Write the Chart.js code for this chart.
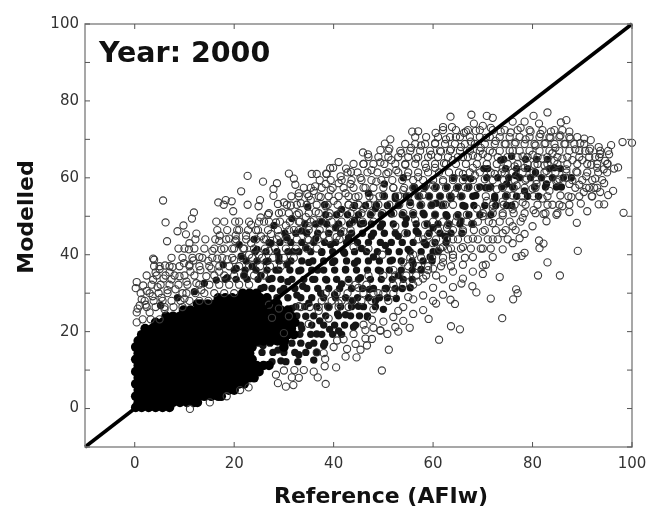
<!DOCTYPE html>
<html>
<head>
<meta charset="utf-8">
<style>
html, body { margin: 0; padding: 0; background: #fff; }
canvas { display: block; }
</style>
<script src="https://cdn.jsdelivr.net/npm/chart.js@4/dist/chart.umd.min.js"></script>
</head>
<body>
<canvas id="chart" width="646" height="509"></canvas>
<script>
const xTickValues = [0, 20, 40, 60, 80, 100];
const yTickValues = [-10, 0, 10, 20, 30, 40, 50, 60, 70, 80, 90, 100];
const lineX = [-10, 100];
const lineY = [-10, 100];

// solid black part of the cloud, one row per y level: [y, x, x, x ...]
const coreRows = [
  [.3, .2,1.4,2.8,4.2,5.6,7],
  [1.6, .7,2.1,3.5,4.9,6.3,7.7,9.1,10.5,11.9,12.6],
  [3.2, .2,1.4,2.8,4.2,5.6,7,8.4,9.8,11.2,12.6,14,15.4,16.8,17.4],
  [4.8, .7,2.1,3.5,4.9,6.3,7.7,9.1,10.5,11.9,13.3,14.7,16.1,17.5,18.9,20],
  [6.4, .2,1.4,2.8,4.2,5.6,7,8.4,9.8,11.2,12.6,14,15.4,16.8,18.2,19.6,21,22],
  [8, .7,2.1,3.5,4.9,6.3,7.7,9.1,10.5,11.9,13.3,14.7,16.1,17.5,18.9,20.3,21.7,23.1,24],
  [9.6, .2,1.4,2.8,4.2,5.6,7,8.4,9.8,11.2,12.6,14,15.4,16.8,18.2,19.6,21,22.4,23.8,25],
  [11.2, .7,2.1,3.5,4.9,6.3,7.7,9.1,10.5,11.9,13.3,14.7,16.1,17.5,18.9,20.3,21.7,23.1,24.5,25.9,27],
  [12.8, .2,1.4,2.8,4.2,5.6,7,8.4,9.8,11.2,12.6,14,15.4,16.8,18.2,19.6,21,22.4,23.6],
  [14.4, .7,2.1,3.5,4.9,6.3,7.7,9.1,10.5,11.9,13.3,14.7,16.1,17.5,18.9,20.3,21.7,23.1],
  [16, .2,1.4,2.8,4.2,5.6,7,8.4,9.8,11.2,12.6,14,15.4,16.8,18.2,19.6,21,22.4,23.6,30],
  [17.6, .7,2.1,3.5,4.9,6.3,7.7,9.1,10.5,11.9,13.3,14.7,16.1,17.5,18.9,20.3,21.7,23.1,24.5,25.9,27.3,28.7,30.1],
  [19.2, 1.4,2.8,4.2,5.6,7,8.4,9.8,11.2,12.6,14,15.4,16.8,18.2,19.6,21,22.4,23.8,25.2,26.6,28,29.4,30.8,32],
  [20.8, 2.1,3.5,4.9,6.3,7.7,9.1,10.5,11.9,13.3,14.7,16.1,17.5,18.9,20.3,21.7,23.1,24.5,25.9,27.3,28.7,30.1,31.5],
  [22.4, 4.2,5.6,7,8.4,9.8,11.2,12.6,14,15.4,16.8,18.2,19.6,21,22.4,23.8,25.2,26.6,28,29.4,30.8,32.2],
  [24, 6.3,7.7,9.1,10.5,11.9,13.3,14.7,16.1,17.5,18.9,20.3,21.7,23.1,24.5,25.9,27.3,28.7,30.1,31.5],
  [25.6, 9.8,11.2,12.6,14,15.4,16.8,18.2,19.6,21,22.4,23.8,25.2,26.6,28,29.4,30.8],
  [27.2, 12.6,13.3,14.7,16.1,17.5,18.9,20.3,21.7,23.1,24.5,25.9,27.3,28.7],
  [28.8, 16.8,18.2,19.6,21,22.4,23.8,25.2,26.6],
  [30, 21.7,23.1,24.5]
];

// dark speckled part, flat x,y pairs
const speckle = [
  26,31.5, 27.6,33.8, 29.3,30.6, 30.8,33, 32.6,29.5, 33.8,31.8, 35,27.4, 35.8,33.6, 37.4,30, 38.8,26.6,
  25.4,34.6, 28.4,36, 30.6,37.4, 33,35.8, 35,38, 36.8,36, 38.6,33.4, 40.2,29.6, 41.6,32.4, 42.4,36.2,
  39.8,38, 37.6,40.6, 34.4,41.8, 31.8,40.8, 29,39.4, 26.4,38.2, 23.6,37, 22,34.6, 20.4,36.4, 18.6,34,
  16.4,33.4, 14,32.6, 17.8,37.4, 21.4,39.6, 24.6,41.4, 27.4,43, 30.6,44.4, 33.6,46.2, 36.4,44.2, 39.4,42.6,
  42.2,40.4, 44.2,37.8, 45.6,41.6, 43,44.4, 40.4,47, 37.6,48.6, 47.6,44.8, 46,48.2, 49.4,47.2, 50.4,42.4,
  48,39.4, 45.4,34, 47.2,31, 49.4,35.8, 51.8,38.6, 53,44.8, 51.6,50.6, 54.6,49.4, 56.6,46.2, 55,41.4,
  53,34.6, 50.6,31.2, 43.8,28, 40.8,24.6, 37.2,22.8, 34.4,24, 31.6,26, 36.6,19.4, 39.2,20.6, 42.4,24.4,
  45,26.6, 48.4,28, 30.4,22.6, 33.6,20.8, 35,16.4, 33,14, 36,12.6, 29.4,12.4, 28.8,15.2, 25.8,16.4,
  38,16.4, 41,20.2, 44,21.2, 46.8,23.8, 50,25.8, 52.6,28.6, 55.4,31.4, 57.6,36.2, 58.6,42.6, 60,47,
  58,50.8, 55.4,53.6, 60.6,53.4, 62.8,50, 63.6,54.6, 65.6,48.8, 66.4,52.6, 68.6,55.4, 70.6,57.4, 72.4,54.6,
  74.8,58.4, 76.6,60.6, 78.4,56.6, 80.6,61.4, 82.8,58.4, 84.4,62.6, 71,62.4, 73.6,64.6, 75.8,65.6, 67.6,59.8,
  62.4,44.8, 59.4,39.4, 56,37.6, 52.4,54.6, 48.4,52, 44.2,49, 41.6,51.8, 47,56, 50.2,58.4, 54,60,
  12,30.4, 8.6,28.8, 5.2,26.8, 24,44, 21,42.6, 28,47.6, 31.6,49.4, 34.8,52.4, 38.2,53
];

// more of the dark part, one row per y level: [y, x, x, x ...]
const speckleRows = [
  [12.2, 27.6,30.4,32.8],
  [14.6, 25.6,27.8,30,32.2,34.4,36.6],
  [17, 25,27.2,31.6,33.4,36,38.2],
  [19.3, 33.2,35.4,37.6,39.8,41.6],
  [21.7, 33.4,35.6,38,40.2,42.2,44.4],
  [24.1, 32.6,36,38.4,41,43.4,45.2,46.8],
  [26.5, 32.4,34.2,36.6,39,41.4,43.6,46,48.4],
  [28.8, 28.6,30.8,33.4,35.6,38,40.4,42.4,44.8,47,49.2,50.8],
  [31.2, 25.4,27.6,30,32.2,34.6,36.8,39,41.2,43.6,45.8,48,50.4,52.4,53.8],
  [33.6, 18.2,20.4,22.6,24.8,27,29.4,31.6,34,36.2,38.4,40.6,43,45,47.4,49.6,51.8,54,55.8],
  [36, 20,22.2,24.4,26.6,29,31.2,33.4,35.6,38,40.2,42.4,44.6,46.8,49,51.2,53.6,55.8,57.6],
  [38.4, 22.4,24.6,26.8,29,31.4,33.6,35.8,38,40.2,42.6,44.8,47,49.2,51.4,53.6,55.8,58,59.8],
  [40.8, 24.2,26.4,28.6,30.8,33,35.4,37.6,39.8,42,44.2,46.6,48.8,51,53.2,55.4,57.6,60,61],
  [43.2, 27,29.2,31.4,33.6,36,38.2,40.4,42.6,44.8,47,49.4,51.6,53.8,56,58.2,60.4,62.6],
  [45.6, 30.2,32.4,34.6,36.8,39,41.4,43.6,45.8,48,50.2,52.4,54.8,57,59.2,61.4,63.6,65.8],
  [48, 34.2,36.4,38.6,41,43.2,45.4,47.6,49.8,52,54.4,56.6,58.8,61,63.2,65.4,67.8],
  [50.4, 38.4,40.6,42.8,45,47.4,49.6,53.8,56,58.2,60.4,62.6,65,67.2,69.4,71.6],
  [52.8, 44.2,46.4,48.6,50.8,53,57.4,59.6,61.8,66,68.2,70.4,72.6,74.8,75.8],
  [55.2, 50.2,52.4,54.6,57,59.2,61.4,63.6,65.8,68,72.4,74.6,76.8,79,81.2],
  [57.6, 56.2,58.4,60.6,62.8,65,67.2,69.4,71.6,73.8,76,80.4,82.6,84.8,85.8],
  [60, 64.2,66.4,70.8,73,75.2,77.4,79.6,81.8,84,86.2,87.8],
  [62.4, 70.2,74.6,76.8,79,83.4,85.6],
  [64.8, 74.2,78.6,80.8,83]
];

// open circles through the band, flat x,y pairs
const band = [
  .6,26, 1.4,28.4, 2.4,30.6, 3.6,29.2, 4.6,31.6, 5.4,28.8, 2.2,27, 4.2,35.4, 5.8,33.8, 6.6,30.8, 7.4,33.6, 8.2,31, 9,34.4, 9.6,30, 7,35.4,
  10.4,33, 11.2,35.6, 12.4,32.6, 13.2,36, 14.4,34.4, 13,39.4, 14.8,38.4, 11,37.4, 15.4,36.4, 16.6,39, 17.4,41.4, 18.6,38.8, 15.6,41, 19.6,41.6, 17,43.6,
  20.2,43.6, 21.8,41.6, 22.4,45, 23.4,43, 24.4,46.4, 21,46.4, 19,44.2, 25.4,44.8, 23.4,47.8, 26,48.6, 27.4,45.4, 26.8,50.4, 28.4,48.4, 29.6,51, 30.4,47.6,
  31.4,52.8, 32.6,50.4, 33.4,53.4, 34.4,49.8, 30,53.6, 28.8,53.2, 35.4,54.2, 36.4,51.2, 37.4,55, 33,56, 38.4,52.6, 39.4,56.8, 40,54, 41,58.6, 38.4,58.4,
  36,56.6, 34,57.4, 42.4,56, 43.4,58.4, 44.4,55, 45.4,60, 41.4,60.4, 46.4,57.4, 47.6,62, 48.6,59, 49.4,64, 46,63.6, 50.6,61, 51.6,64.6, 52.6,62,
  53.6,66.4, 54.4,63.4, 55.6,67.8, 56.6,65, 57.6,68.4, 58.6,62.6, 59.6,66, 60.4,69, 54.8,60.4, 57,60.2, 61.6,66.8, 62.6,70, 63.6,67.4, 64.6,70.6, 65.6,68,
  66.6,72, 67.6,69.4, 68.6,72.2, 69.6,67.8, 70.6,70.4, 71.6,73, 72.6,69.6, 73.6,72, 74.6,68.8, 75.6,71.8, 76.6,69.2, 77.6,73, 78.6,70, 79.6,72, 80.6,68.4,
  81.6,71.4, 82.6,69, 83.6,70.4, 84.6,67.8, 85.6,71, 86.6,68.8, 87.6,70.2, 88.6,67.4, 89.6,69, 90.6,67, 91.6,67.6, 92.6,65.4, 93.6,66.2, 94.6,64.4, 95.2,67,
  60.4,62.6, 62.2,63.8, 64,64.6, 66,65.4, 68,65.8, 70,66.2, 72,66.6, 74,62.4, 76,67, 78,65.6, 80,66, 82,65, 84,66.4, 86,65, 88,64.6,
  90,64.6, 91.8,63.4, 93,62.6, 86.8,62.2, 88.8,61.6, 90.8,60.4, 92.6,59.8, 94.4,58.6, 85.4,59.6, 87.4,58.4, 89.4,58.2, 91.4,57.4, 83.4,56.6, 85.6,55.4, 87.8,55,
  80,57.2, 82,54.6, 84,53, 86,52.6, 78,53.6, 80.2,51.6, 82.2,50.6, 76,51.8, 78,49.6, 80,47.4, 74,50.2, 76,47.4, 78.4,45.4, 72,48.2, 74,45.6,
  76,43, 70,46, 72,44, 74,41.4, 68,44.2, 70,41.6, 72,39.4, 66,42, 68,39.4, 70,37.2, 64,40, 66,37.4, 68,35.6, 62,38, 64,35.6,
  66,33.8, 60,36.4, 62,33.6, 64,31.6, 58,33.8, 60,31.4, 62,29.6, 56,28.4, 58,29.4, 60,28, 54,26.4, 56,24.6, 58,25.6, 52,23.8, 54,22.8,
  50,22.6, 48,25.8, 46,21.8, 44,19.4, 42,18, 40,16, 38,14.4, 48,21, 50.8,19.4, 53,20, 44.4,16.8, 46.4,18.2, 34,10, 36,9.6, 33,8,
  62,42, 64,44, 66,46, 68,48, 70,50, 72,52, 74,53.8, 76,55.4, 62.8,47, 64.8,50, 66.8,50.4, 68.8,52, 70.8,54, 72.8,57, 74.8,55.4,
  76.8,58, 78.8,59.8, 80.8,58.4, 82.8,61.8, 84.8,59, 86.8,60, 57,44, 59,45, 61,46.4, 63,47.8, 61,41, 59,36, 57,33, 55,29, 53,25.4,
  51,28, 49,30, 47,34.6, 45,31.4, 43,33, 41,27.4, 39,23.4, 37,25.4, 35,22, 33,26.6, 31,24, 29,26, 27,27, 27.6,23.6, 30,19.6,
  52.4,47.4, 54.4,45.6, 56.4,49, 58.4,47.8, 60.4,50.4, 62.4,53, 64.4,56, 66.4,57.6, 68.4,60.6, 70.4,59.6, 72.4,61, 74.4,61.2, 76.4,63, 78.4,62.6, 80.4,63.4,
  82.4,63.2, 84.4,64.4, 44,52.4, 46,52, 48,54.6, 50,55.4, 52,57.4, 54,56.8, 56,57.4, 58,55.6, 60,58, 62,59, 64,60, 66,61, 68,62.6,
  42,46, 38,45, 35,47.4, 32,46.4, 29,44.8, 26,44, 23,40, 20,38.6, 17,35.6, 13.4,30.8, 10,28.6, 6,25.8, 3,25, 35,43.8, 25,40,
  27,41, 43,53, 39,50, 36,49, 33,48.6, 40.6,44.6, 44,42, 47,41.6, 49.8,40, 52,36, 54,38, 56,40, 58,44, 60,43, 63,41.4
];

// more open circles, one row per y level: [y, x, x, x ...]
const bandRows = [
  [23.2, 1.6,3.2,5],
  [26.4, 2.4,4.2,6,7.8,9.6,33.4,35.2,37,39,41,43],
  [28, 2,3.8,5.6,7.4,9.2,11,13,14.8,37.6,39.6,41.6,43.6,45.6,47.6],
  [30, 1.2,3,4.8,6.6,10.4,12.2,14,16,18,20,38.4,40.6,42.8,46,48,50,52],
  [32.2, 3.4,5.2,7,8.8,10.6,13,15,17,19,21,23,44.4,46.6,52,54,56],
  [34.6, 2.4,4.4,6.2,8,10,12,16,18,20,22,24,26,50,52.4,54.6,56.6,58.6,60.6],
  [37, 5,7,9,11,13,15,17,19,21,23,25.2,27.2,29.4,55,57,59,61.6,63.6],
  [39.2, 7.4,9.6,11.6,13.6,15.6,17.6,19.6,21.6,23.6,25.6,27.8,30,32,55.4,57.6,59.8,62,64,66.4],
  [41.6, 10,12,14,16,18,20,22,24,26.2,28.2,30.4,32.4,34.6,36.6,61.4,63.6,65.6,67.6,69.6,71.6],
  [44, 12.2,14.2,16.2,18.4,20.4,22.4,24.4,26.4,28.6,30.6,32.6,34.8,36.8,39,41.2,60.6,62.8,65,67,69,71,73,75],
  [46.4, 16.6,18.6,20.6,22.8,24.8,26.8,28.8,31,33,35,37.2,39.2,41.4,43.4,64,66,68.2,70.4,72.6,74.6,76.6],
  [48.6, 21,23,25,27,29.2,31.2,33.2,35.4,37.4,39.6,41.6,43.8,45.8,48,60,62,64.6,66.8,69,71.2,73.4,75.4,77.6],
  [50.8, 27,29,31,33,35,37,39.2,41.2,43.4,45.6,47.6,49.8,52,54,56,70,72,74,76.2,78.4,80.6,82.6,85],
  [53, 30.6,32.6,34.6,36.6,38.8,40.8,43,45,47,49,51.2,53.2,55.4,57.6,59.8,62,64,72,74.2,76.4,78.6,81,83,85.4,87.4],
  [55.2, 33,35,37,39,41,43,45,47.2,49.2,53,55,57.2,59.2,61.4,63.4,65.6,70.6,78,80.2,83,87.2,89.4,92],
  [57.4, 35.4,37.6,39.8,42,44,46,48,50,52,54.2,56.2,58.2,60.4,62.6,64.8,67,69,71.2,74,76.2,78.4,80.6,88.6,90.8,93],
  [59.4, 37.2,39.4,41.6,43.6,45.6,47.6,49.6,51.8,53.8,56,58,60,62,64,66,68,72,74.2,76.4,78.6,80.8,83,85,88,90,92,94],
  [61.4, 42.8,44.8,46.8,48.8,51,53,55,57,59,61.2,63.2,65.2,67.4,69.4,71.6,73.8,76,78,80.2,82.4,84.6,86.8,89,91,93.2,95],
  [63.6, 44,46,48,50.2,52.4,54.4,56.4,58.4,60.4,62.6,64.6,66.6,68.8,70.8,72.8,75,77,79,81,83,85,87,89,91,93,95],
  [65.4, 47,49,51,53,55,57,59,61,63,65,67,69,71,73,75,77,79,81,83,85,87,89.4,91.4,93.4],
  [67, 51,53.4,55.4,57.4,59.4,61.4,63.4,65.4,67.4,69.4,71.4,73.4,75.4,77.4,79.4,81.4,83.4,85.4,87.4,89.4,91.4,93.6],
  [68.8, 54.4,56.4,58.4,60.4,62.4,64.4,66.4,68.4,70.4,72.4,74.4,76.4,78.4,80.4,82.4,84.4,86.4,88.4,90.4],
  [70.6, 56.4,58.6,61,63.4,65.4,67.4,69.4,71.4,73.4,75.4,77.4,79.4,81.4,83.4,85.4,87.4,89],
  [72.4, 62,64.6,67,69.4,72,74.4,77,79.4,82,84.4,86]
];

// loose points around the edge of the cloud, flat x,y pairs
const outliers = [
  5.7,54.1, 6.2,48.4, 11.9,51, 11.5,49.4, 9.8,47.6, 8.6,46.1, 10.3,45.3, 12.4,45.5, 6.5,43.5, 11,43, 8.8,41.6, 10.9,41.4, 3.7,39,
  16.8,53.6, 18.3,54.2, 19.5,53.9, 17.9,53, 19.8,51.3, 22.7,53, 24.9,52.6, 25.2,54.2, 21.4,56.5, 22.7,60.5, 25.8,59, 16.4,48.6, 18,48.6, 20.2,48.6, 25.3,49.7, 17.1,45, 20.3,45,
  27.9,57.1, 28.6,58.6, 27.9,55.3, 31,61.1, 32,59.8, 32.3,58.2, 31.5,55.2, 35.6,61, 36.6,61, 38.5,61.1, 39.3,62.5, 36.3,57.8, 34.7,55.8,
  63.5,75.9, 67.7,76.4, 70.8,76.1, 72,75.6, 80.2,76.1, 83,77, 86.8,75, 85.7,74.4, 98.1,69.3, 100,69.1, 98.3,50.9, 88.9,48.3, 89.1,41, 83,38, 81.1,34.6, 85.5,34.6,
  81.3,43.7, 82.2,42.9, 81.4,41.7, 78.4,40.5, 76.7,39.4, 77.8,39.7, 77.4,44.3, 73.4,34.2, 71.6,28.6, 76.7,31, 77,30, 76.1,28.4, 73.9,23.5, 68.7,30.2, 67.9,31.8, 65.7,32.5, 70,35, 70.6,37.4,
  64.4,27.2, 63.5,28.3, 60.6,27.3, 59.1,23.3, 55.3,21, 63.6,21.4, 65.4,20.6, 61.2,17.9, 52.4,21.2, 49.4,20.3,
  41,64.1, 39.9,62.6, 38.6,61, 42.5,62.4, 43.5,61.5, 45.9,66.6, 46.9,66.1, 49.4,67.2, 51.4,70, 50.3,68.9, 51.2,67.6, 55.8,72, 57,72.1, 60.5,71.7, 62,73.2, 63.8,73.2, 66.2,71.7, 68.2,74.1, 70,73.5,
  76,74.6, 78.4,74.6, 81.3,74.1, 83.7,72, 87.4,72, 90.4,70.2, 91.7,69.8, 93.3,68, 95.8,68.5, 95.4,66.1, 95.1,63.7, 94.3,62.2, 96.4,62.4, 97.2,62.7, 96.2,56.6, 95.2,55.5, 93.6,56.3, 92.4,57.4,
  90.3,56.3, 91.9,55.2, 93.3,53.1, 94.4,53.1, 89.7,53.3, 91,51.3, 87.4,51.1, 84.8,50.4, 82.8,48.7,
  49.7,9.9, 51.1,15.3, 36.8,8.1, 38.4,6.4, 40.5,10.7, 38.2,11, 42.4,13.5, 44.6,13.3, 31.9,6.1, 30.4,5.7, 28.8,6.6, 31.6,8.1, 32.1,10, 30,9.9, 28.4,8.8, 22.9,5.5, 21.2,4.8, 11.1,-.1, 18.5,3.2, 15.1,1.6,
  .4,32.9, .2,31.3, 1.7,32, 3.9,38.7, 3.9,37, 6.1,37.2, 7.6,36.8, 9.9,37.8, 11.8,38.5, .4,25, .4,22.4, 1,26.8, 3.7,33.5, 5,36.3,
  47.7,23.1, 49.4,20.3, 46.4,20.4, 47.7,18.1, 46.7,16.4, 45.4,15.3, 42.7,15.5, 40.7,17.7, 38.3,12.9, 36.6,14.6
];

function fromPairs(list) {
  const pts = [];
  for (let i = 0; i < list.length; i += 2) pts.push({ x: list[i], y: list[i + 1] });
  return pts;
}

function fromRows(rows) {
  const pts = [];
  rows.forEach(function (row) {
    row.slice(1).forEach(function (x) { pts.push({ x: x, y: row[0] }); });
  });
  return pts;
}

// inward ticks, frame and the free text
const decorations = {
  id: 'decorations',
  afterDatasetsDraw(chart) {
    const ctx = chart.ctx;
    const a = chart.chartArea;
    const sx = chart.scales.x;
    const sy = chart.scales.y;
    ctx.save();
    ctx.strokeStyle = '#8a8a8a';
    ctx.lineWidth = 1.5;
    ctx.strokeRect(a.left, a.top, a.right - a.left, a.bottom - a.top);
    ctx.lineWidth = 1;
    ctx.strokeStyle = '#555';
    ctx.beginPath();
    xTickValues.forEach(function (v) {
      const p = sx.getPixelForValue(v);
      ctx.moveTo(p, a.bottom); ctx.lineTo(p, a.bottom - 5);
      ctx.moveTo(p, a.top); ctx.lineTo(p, a.top + 5);
    });
    yTickValues.forEach(function (v) {
      const p = sy.getPixelForValue(v);
      ctx.moveTo(a.left, p); ctx.lineTo(a.left + 5, p);
      ctx.moveTo(a.right, p); ctx.lineTo(a.right - 5, p);
    });
    ctx.stroke();

    ctx.fillStyle = '#111';
    ctx.textAlign = 'left';
    ctx.textBaseline = 'alphabetic';
    ctx.font = 'bold 28.5px "DejaVu Sans"';
    ctx.fillText('Year: 2000', 99, 62);
    ctx.font = 'bold 22px "DejaVu Sans"';
    ctx.textAlign = 'center';
    ctx.fillText('Reference (AFIw)', 381, 503);
    ctx.translate(33, 217);
    ctx.rotate(-Math.PI / 2);
    ctx.fillText('Modelled', 0, 0);
    ctx.restore();
  }
};

new Chart(document.getElementById('chart'), {
  type: 'scatter',
  data: {
    datasets: [
      {
        label: 'Reference line',
        type: 'line',
        data: lineX.map(function (x, i) { return { x: x, y: lineY[i] }; }),
        borderColor: '#000',
        borderWidth: 3.5,
        pointRadius: 0,
        order: 0
      },
      {
        label: 'Core',
        data: fromRows(coreRows),
        pointRadius: 4.8,
        backgroundColor: '#000',
        borderWidth: 0,
        order: 2
      },
      {
        label: 'Speckle',
        data: fromPairs(speckle).concat(fromRows(speckleRows)),
        pointRadius: 3.7,
        backgroundColor: '#151515',
        borderWidth: 0,
        order: 3
      },
      {
        label: 'Band',
        data: fromPairs(band).concat(fromRows(bandRows)),
        pointRadius: 3.6,
        backgroundColor: 'transparent',
        borderColor: '#3a3a3a',
        borderWidth: 1.1,
        order: 1
      },
      {
        label: 'Outliers',
        data: fromPairs(outliers),
        pointRadius: 3.6,
        backgroundColor: 'transparent',
        borderColor: '#3a3a3a',
        borderWidth: 1.1,
        order: 1
      }
    ]
  },
  options: {
    responsive: false,
    animation: false,
    clip: false,
    layout: { padding: { top: 24, right: 14, left: 0, bottom: 0 } },
    plugins: { legend: { display: false }, tooltip: { enabled: false } },
    scales: {
      x: {
        type: 'linear',
        min: -10,
        max: 100,
        afterBuildTicks(axis) { axis.ticks = xTickValues.map(function (v) { return { value: v }; }); },
        afterFit(axis) { axis.height = 62; axis.paddingLeft = 0; axis.paddingRight = 0; },
        grid: { display: false, drawTicks: false },
        border: { display: false },
        ticks: { color: '#333', font: { family: 'DejaVu Sans', size: 15 }, padding: 8, maxRotation: 0, autoSkip: false }
      },
      y: {
        type: 'linear',
        min: -10,
        max: 100,
        afterBuildTicks(axis) { axis.ticks = yTickValues.map(function (v) { return { value: v }; }); },
        afterFit(axis) { axis.width = 85; axis.paddingTop = 0; axis.paddingBottom = 0; },
        grid: { display: false, drawTicks: false },
        border: { display: false },
        ticks: {
          color: '#333',
          font: { family: 'DejaVu Sans', size: 15 },
          padding: 6,
          autoSkip: false,
          callback(v) { return v % 20 === 0 ? v : ''; }
        }
      }
    }
  },
  plugins: [decorations]
});
</script>
</body>
</html>
